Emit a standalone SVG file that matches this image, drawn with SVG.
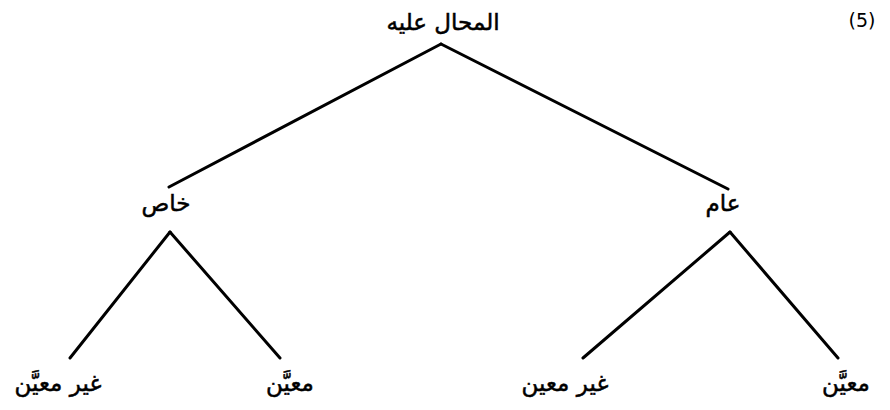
<svg xmlns="http://www.w3.org/2000/svg" width="890" height="410" viewBox="0 0 890 410">
<style>
.t{font-family:"DejaVu Serif","DejaVu Sans","Noto Sans",serif;font-size:23px;fill:#000;stroke:#000;stroke-width:0.5;text-anchor:middle;direction:rtl}
.n{font-family:"DejaVu Sans","Noto Sans",sans-serif;font-size:19px;fill:#000;text-anchor:middle}
.c line{stroke:#000;stroke-width:3;stroke-linecap:round}
</style>
<rect width="890" height="410" fill="#fff"/>
<text class="n" x="862" y="27">(5)</text>
<g id="root"><text class="t" x="443" y="30">المحال عليه</text></g>
<g id="khas"><text class="t" x="166" y="211">خاص</text></g>
<g id="aam"><text class="t" x="723" y="211">عام</text></g>
<g id="l1"><text class="t" x="58" y="391">غير معيَّن</text></g>
<g id="l2"><text class="t" x="290" y="391">معيَّن</text></g>
<g id="r1"><text class="t" x="565" y="391">غير معين</text></g>
<g id="r2"><text class="t" x="846" y="391">معيَّن</text></g>
<g class="c" id="connectors">
<line x1="441" y1="44" x2="169" y2="187"/>
<line x1="441" y1="44" x2="728" y2="189"/>
<line x1="170" y1="232" x2="70" y2="358"/>
<line x1="170" y1="232" x2="280" y2="358"/>
<line x1="730" y1="232" x2="583" y2="358"/>
<line x1="730" y1="232" x2="838" y2="358"/>
</g>
</svg>
